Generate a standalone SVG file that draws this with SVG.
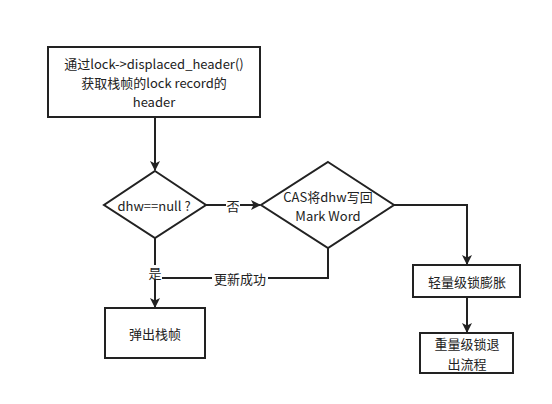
<svg xmlns="http://www.w3.org/2000/svg" width="552" height="404" viewBox="0 0 552 404">
<defs>
<marker id="arr" markerWidth="10" markerHeight="12" refX="9" refY="5" orient="auto" markerUnits="userSpaceOnUse" viewBox="0 0 10 10">
<path d="M0,0 L10,5 L0,10 L2.5,5 Z" fill="#222"/>
</marker>
<style>
.shape{fill:#fff;stroke:#222;stroke-width:2}
.edge{fill:none;stroke:#222;stroke-width:2}
text{font-family:"Noto Sans CJK SC","Noto Sans",sans-serif;font-size:13px;fill:#222;text-anchor:middle;dominant-baseline:central}
.lbl{fill:#fff;stroke:none}
</style>
</defs>
<rect width="552" height="404" fill="#fff"/>
<g id="connectors">
<path class="edge" d="M155,118 L155,170" marker-end="url(#arr)"/>
<path class="edge" d="M206,205 L260,205" marker-end="url(#arr)"/>
<path class="edge" d="M394,205 L467,205 L467,264" marker-end="url(#arr)"/>
<path class="edge" d="M467,297 L467,332" marker-end="url(#arr)"/>
<path class="edge" d="M155,238 L155,307" marker-end="url(#arr)"/>
<path class="edge" d="M328,248 L328,278 L155,278"/>
<rect class="lbl" x="226" y="197" width="14" height="16"/>
<text x="233" y="205">否</text>
<rect class="lbl" x="148" y="265" width="14" height="14"/>
<text x="155" y="272">是</text>
<rect class="lbl" x="212" y="270" width="56" height="16"/>
<text x="240" y="278">更新成功</text>
</g>
<g id="n1">
<rect class="shape" x="48" y="47" width="212" height="70"/>
<text x="154" y="63">通过lock-&gt;displaced_header()<tspan x="154" dy="19">获取栈帧的lock record的</tspan><tspan x="154" dy="19">header</tspan></text>
</g>
<g id="d1">
<polygon class="shape" points="155,171 206,205 155,238 104,205"/>
<text x="154" y="205">dhw==null ?</text>
</g>
<g id="d2">
<polygon class="shape" points="328,162 394,205 328,248 261,205"/>
<text x="328" y="196">CAS将dhw写回<tspan x="328" dy="19">Mark Word</tspan></text>
</g>
<g id="n2">
<rect class="shape" x="105" y="308" width="100" height="50"/>
<text x="155" y="333">弹出栈帧</text>
</g>
<g id="n3">
<rect class="shape" x="413" y="265" width="107" height="32"/>
<text x="467" y="281">轻量级锁膨胀</text>
</g>
<g id="n4">
<rect class="shape" x="420" y="333" width="93" height="40"/>
<text x="467" y="343.5">重量级锁退<tspan x="467" dy="19">出流程</tspan></text>
</g>
</svg>
